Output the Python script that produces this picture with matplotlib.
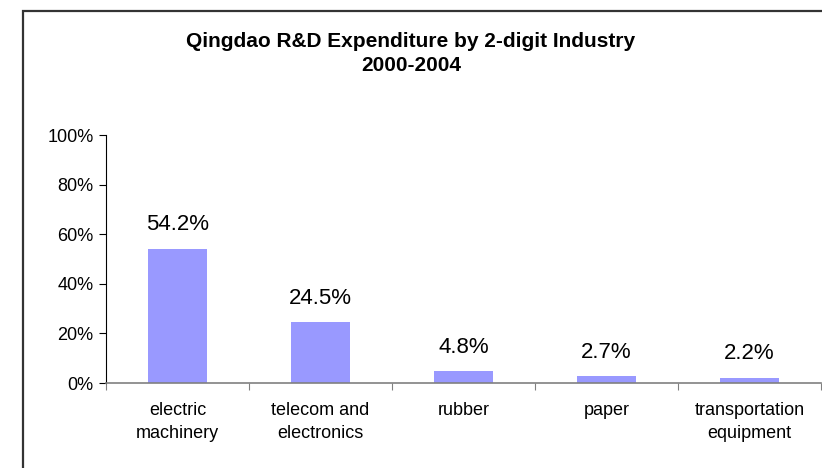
import numpy as np
import matplotlib.pyplot as plt
from matplotlib.patches import Rectangle

# Qingdao R&D expenditure shares by industry
industries = ['electric\nmachinery', 'telecom and\nelectronics', 'rubber', 'paper',
              'transportation\nequipment']
shares = [54.2, 24.5, 4.8, 2.7, 2.2]
y_ticks = [0, 20, 40, 60, 80, 100]

plt.rcParams['font.family'] = ['Liberation Sans', 'DejaVu Sans']

W, H = 822, 468
fig = plt.figure(figsize=(W / 100, H / 100), dpi=100)

# outer chart frame (right and bottom edges fall outside the picture)
fig.patches.append(Rectangle((23 / W, -0.1), 1.2, (H - 11) / H + 0.1,
                             transform=fig.transFigure, fill=False,
                             edgecolor='#333333', linewidth=1.6))

ax = fig.add_axes([106 / W, 1 - 383 / H, (821 - 106) / W, (383 - 135) / H])

x = np.arange(len(shares))
ax.bar(x, shares, width=0.41, color='#9999FF')
for xi, v in zip(x, shares):
    ax.annotate(f'{v:.1f}%', (xi, v), xytext=(0, 17), textcoords='offset points',
                ha='center', va='center', fontsize=16)

ax.set_xlim(-0.5, len(shares) - 0.5)
ax.set_ylim(0, 100)
ax.set_yticks(y_ticks)
ax.set_yticklabels([f'{t}%' for t in y_ticks], fontsize=13)

# category labels between boundary ticks
ax.set_xticks(np.arange(len(shares) + 1) - 0.5)
ax.set_xticklabels([])
ax.set_xticks(x, minor=True)
ax.set_xticklabels(industries, minor=True, fontsize=13, linespacing=1.45)
ax.tick_params(axis='x', which='minor', length=0, pad=14)
ax.tick_params(axis='x', which='major', length=5, color='#808080', direction='out')
ax.tick_params(axis='y', length=5, direction='out', pad=4)

for s in ['top', 'right']:
    ax.spines[s].set_visible(False)
ax.spines['bottom'].set_color('#808080')
ax.spines['bottom'].set_linewidth(1.2)
ax.spines['left'].set_color('black')

fig.text(0.5, 1 - 53.5 / H, 'Qingdao R&D Expenditure by 2-digit Industry\n2000-2004',
         ha='center', va='center', fontsize=15, fontweight='bold', linespacing=1.3)

fig.savefig('out.png', dpi=100)
